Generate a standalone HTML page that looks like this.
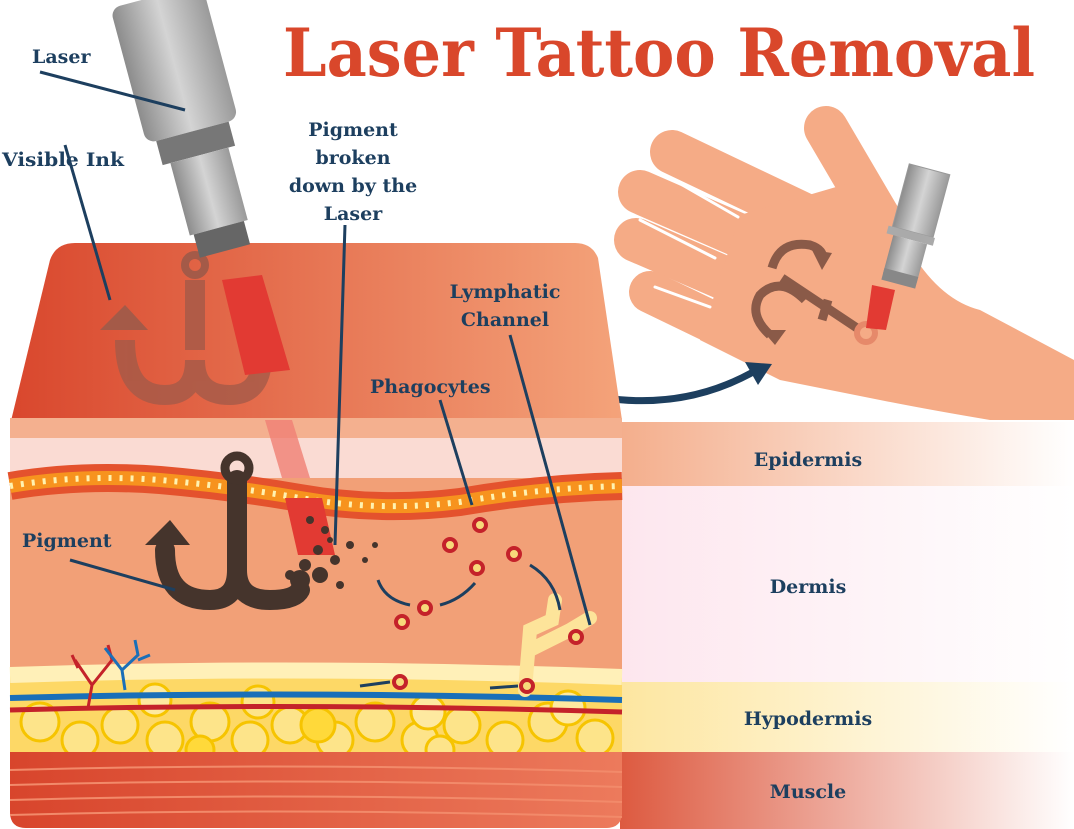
<!DOCTYPE html>
<html><head><meta charset="utf-8"><style>
body{margin:0;width:1074px;height:829px;overflow:hidden;background:#fff}
svg{display:block}
.l{font-family:"DejaVu Serif",serif;font-weight:bold;fill:#1d3f5f;font-size:19px}
</style></head><body>
<svg width="1074" height="829" viewBox="0 0 1074 829">
<defs>
<linearGradient id="ep" x1="0" x2="1"><stop offset="0" stop-color="#f4ae8c"/><stop offset="1" stop-color="#fff"/></linearGradient>
<linearGradient id="hy" x1="0" x2="1"><stop offset="0" stop-color="#fde6a0"/><stop offset="1" stop-color="#fff"/></linearGradient>
<linearGradient id="mu" x1="0" x2="1"><stop offset="0" stop-color="#dd5a40"/><stop offset="1" stop-color="#fff"/></linearGradient>
<linearGradient id="dm" x1="0" x2="1"><stop offset="0" stop-color="#fde6ee"/><stop offset="1" stop-color="#fff"/></linearGradient>
<linearGradient id="top" x1="0" x2="1"><stop offset="0" stop-color="#d9472d"/><stop offset="1" stop-color="#f4a37a"/></linearGradient>
<linearGradient id="msc" x1="0" x2="1"><stop offset="0" stop-color="#d8452c"/><stop offset="1" stop-color="#ec7a5c"/></linearGradient>
<linearGradient id="lz" x1="0" x2="1"><stop offset="0" stop-color="#8c8c8c"/><stop offset=".5" stop-color="#d4d4d4"/><stop offset="1" stop-color="#9a9a9a"/></linearGradient>
</defs>
<!-- right label bands -->
<rect x="620" y="422" width="454" height="64" fill="url(#ep)"/>
<rect x="620" y="486" width="454" height="196" fill="url(#dm)"/>
<rect x="620" y="682" width="454" height="70" fill="url(#hy)"/>
<rect x="620" y="752" width="454" height="77" fill="url(#mu)"/>
<text class="l" x="808" y="466" text-anchor="middle" fill="#2c5a7a">Epidermis</text>
<text class="l" x="808" y="593" text-anchor="middle">Dermis</text>
<text class="l" x="808" y="725" text-anchor="middle">Hypodermis</text>
<text class="l" x="808" y="798" text-anchor="middle">Muscle</text>
<!-- hand -->
<g stroke="#f5ab86" stroke-linecap="round" fill="none">
<path d="M672 152 L840 232" stroke-width="44"/>
<path d="M640 192 L830 275" stroke-width="44"/>
<path d="M636 240 L810 315" stroke-width="44"/>
<path d="M650 292 L770 350" stroke-width="42"/>
<path d="M826 128 L880 220" stroke-width="44"/>
</g>
<path d="M740 215 L860 180 L910 250 Q940 300 980 310 L1074 360 L1074 420 L990 420 Q930 410 880 400 L780 380 L700 340 Z" fill="#f5ab86"/>
<g stroke="#fff" stroke-width="3" stroke-linecap="round"><path d="M665 175 L738 217"/><path d="M640 220 L715 258"/><path d="M655 287 L710 307"/></g>
<g fill="none" stroke="#8a5a48" stroke-width="9">
<path d="M772 268 Q780 240 810 245 Q825 250 822 260"/>
<path d="M805 300 Q780 275 760 295 Q748 315 770 335"/>
<path d="M782 278 L860 330"/><path d="M828 300 L822 320"/>
</g>
<path d="M812 250 L832 253 L822 270 Z" fill="#8a5a48"/>
<path d="M762 330 L786 330 L775 345 Z" fill="#8a5a48"/>
<circle cx="866" cy="333" r="9" fill="none" stroke="#e6896a" stroke-width="6"/>
<path d="M872 285 L895 290 L886 330 L866 328 Z" fill="#e23a33"/>
<g transform="rotate(15 905 230)">
<rect x="892" y="165" width="42" height="65" fill="url(#lz)" stroke="#999"/>
<rect x="888" y="230" width="48" height="8" fill="#aaa"/>
<rect x="895" y="238" width="35" height="40" fill="url(#lz)"/>
<rect x="895" y="272" width="35" height="12" fill="#888"/>
</g>
<path d="M605 398 Q690 410 760 368" fill="none" stroke="#1d3f5f" stroke-width="7"/>
<path d="M745 362 L772 364 L758 385 Z" fill="#1d3f5f"/>
<!-- skin block top -->
<path d="M10 425 L50 260 Q56 243 75 243 L575 243 Q592 243 598 258 L622 420 Z" fill="url(#top)"/>
<!-- main block -->
<rect x="10" y="418" width="612" height="410" rx="16" fill="#f2a077"/>
<rect x="10" y="418" width="612" height="20" fill="#f4b08f"/>
<rect x="10" y="438" width="612" height="40" fill="#fadbd3"/>
<path d="M10 486 Q80 474 160 480 Q230 486 300 498 Q380 512 460 502 Q540 488 622 486" fill="none" stroke="#e4522d" stroke-width="28"/>
<path d="M10 486 Q80 474 160 480 Q230 486 300 498 Q380 512 460 502 Q540 488 622 486" fill="none" stroke="#f7931e" stroke-width="14"/>
<path d="M10 486 Q80 474 160 480 Q230 486 300 498 Q380 512 460 502 Q540 488 622 486" fill="none" stroke="#fff2b0" stroke-width="6" stroke-dasharray="3 8"/>
<!-- hypodermis -->
<path d="M10 670 Q300 660 622 672 L622 752 L10 752 Z" fill="#fdd866"/>
<g fill="#fde48a" stroke="#f6c400" stroke-width="3">
<circle cx="40" cy="722" r="19"/><circle cx="80" cy="740" r="18"/><circle cx="120" cy="725" r="18"/><circle cx="165" cy="740" r="18"/><circle cx="210" cy="722" r="19"/><circle cx="250" cy="740" r="18"/><circle cx="290" cy="725" r="18"/><circle cx="335" cy="740" r="18"/><circle cx="375" cy="722" r="19"/><circle cx="420" cy="740" r="18"/><circle cx="462" cy="725" r="18"/><circle cx="505" cy="740" r="18"/><circle cx="548" cy="722" r="19"/><circle cx="595" cy="738" r="18"/><circle cx="155" cy="700" r="16" fill="#fee9a0"/><circle cx="318" cy="725" r="17" fill="#ffd93a"/><circle cx="428" cy="712" r="17" fill="#fee9a0"/><circle cx="568" cy="708" r="17" fill="#fee9a0"/><circle cx="258" cy="702" r="16"/><circle cx="440" cy="750" r="14"/><circle cx="200" cy="750" r="14" fill="#ffd93a"/>
</g>
<path d="M10 675 Q300 665 622 677" fill="none" stroke="#fff0b8" stroke-width="16"/>
<path d="M10 698 Q300 690 622 700" fill="none" stroke="#1a6fb8" stroke-width="6"/>
<path d="M10 710 Q300 702 622 712" fill="none" stroke="#c4222a" stroke-width="5"/>
<!-- muscle -->
<path d="M10 752 L622 752 L622 812 Q622 828 606 828 L26 828 Q10 828 10 812 Z" fill="url(#msc)"/>
<g fill="none" stroke="#f28a6a" stroke-width="2">
<path d="M10 770 Q300 762 622 772"/><path d="M10 785 Q300 777 622 787"/><path d="M10 800 Q300 792 622 802"/><path d="M10 815 Q300 807 622 817"/>
</g>
<!-- vessels -->
<path d="M88 708 L92 685 L75 660 M92 685 L112 660 L108 645 M78 668 L72 655" fill="none" stroke="#c4222a" stroke-width="3"/>
<path d="M125 690 L122 670 L105 648 M122 670 L138 655 L135 640 M138 660 L150 655" fill="none" stroke="#1a6fb8" stroke-width="3"/>
<!-- lymphatic -->
<path d="M525 690 L530 630 L552 620 L555 600 M530 650 L570 630 L590 618" fill="none" stroke="#fde49a" stroke-width="14" stroke-linecap="round"/>
<!-- laser beam -->
<path d="M265 420 L292 420 L310 478 L282 478 Z" fill="#f07f74" opacity=".8"/>
<path d="M285 498 L322 498 L335 555 L298 555 Z" fill="#e23a33"/>
<!-- anchor dermis -->
<g fill="none" stroke="#45342c" stroke-width="20" stroke-linecap="round">
<path d="M237 480 L237 570"/>
<path d="M165 550 Q165 600 210 600 Q237 600 237 570 Q237 600 270 600 Q295 600 300 590"/>
</g>
<circle cx="237" cy="468" r="12" fill="none" stroke="#45342c" stroke-width="9"/>
<path d="M145 545 L170 520 L190 545 Z" fill="#45342c"/>
<g fill="#45342c"><circle cx="300" cy="580" r="10"/><circle cx="320" cy="575" r="8"/><circle cx="335" cy="560" r="5"/><circle cx="350" cy="545" r="4"/><circle cx="365" cy="560" r="3"/><circle cx="340" cy="585" r="4"/><circle cx="310" cy="520" r="4"/><circle cx="325" cy="530" r="4"/><circle cx="290" cy="575" r="5"/><circle cx="375" cy="545" r="3"/><circle cx="318" cy="550" r="5"/><circle cx="305" cy="565" r="6"/><circle cx="330" cy="540" r="3"/></g>
<!-- top anchor faded -->
<g fill="none" stroke="#a45a48" stroke-width="20" opacity=".8">
<path d="M195 280 L195 350"/><path d="M125 340 Q125 395 165 395 Q195 395 195 360 Q195 395 230 395 Q260 395 262 360"/>
</g>
<circle cx="195" cy="265" r="10" fill="none" stroke="#a45a48" stroke-width="8"/>
<path d="M100 330 L125 305 L148 330 Z" fill="#a45a48"/>
<path d="M222 280 L262 275 L290 370 L245 375 Z" fill="#e23a33"/>
<!-- laser -->
<g transform="rotate(-15 200 150)">
<rect x="150" y="-10" width="95" height="140" rx="10" fill="url(#lz)"/>
<rect x="160" y="130" width="75" height="25" fill="#777"/>
<rect x="168" y="155" width="60" height="75" fill="url(#lz)"/>
<rect x="172" y="230" width="52" height="24" fill="#666"/>
</g>
<!-- phagocytes -->
<g fill="#f7d97a" stroke="#c4222a" stroke-width="4">
<circle cx="402" cy="622" r="6"/><circle cx="425" cy="608" r="6"/><circle cx="480" cy="525" r="6"/><circle cx="477" cy="568" r="6"/><circle cx="514" cy="554" r="6"/><circle cx="576" cy="637" r="6"/><circle cx="400" cy="682" r="6"/><circle cx="527" cy="686" r="6"/><circle cx="450" cy="545" r="6"/>
</g>
<g fill="none" stroke="#1d3f5f" stroke-width="3">
<path d="M378 580 Q385 600 410 605"/><path d="M440 605 Q460 600 475 583"/><path d="M530 565 Q555 580 560 610"/><path d="M390 682 L360 686"/><path d="M518 686 L490 688"/>
<path d="M65 145 L110 300"/><path d="M40 72 L185 110"/><path d="M345 225 L335 545"/><path d="M440 400 L472 505"/><path d="M510 335 L590 625"/><path d="M70 560 L175 590"/>
</g>
<!-- labels -->
<text class="l" x="32" y="63">Laser</text>
<text class="l" x="2" y="166" textLength="122" lengthAdjust="spacingAndGlyphs">Visible Ink</text>
<text class="l" x="353" y="136" text-anchor="middle">Pigment</text>
<text class="l" x="353" y="164" text-anchor="middle">broken</text>
<text class="l" x="353" y="192" text-anchor="middle">down by the</text>
<text class="l" x="353" y="220" text-anchor="middle">Laser</text>
<text class="l" x="505" y="298" text-anchor="middle">Lymphatic</text>
<text class="l" x="505" y="326" text-anchor="middle">Channel</text>
<text class="l" x="370" y="393">Phagocytes</text>
<text class="l" x="22" y="547">Pigment</text>
<text x="283" y="76" font-family="DejaVu Serif,serif" font-weight="bold" font-size="66" fill="#d9472b" textLength="752" lengthAdjust="spacingAndGlyphs">Laser Tattoo Removal</text>
</svg>
</body></html>
